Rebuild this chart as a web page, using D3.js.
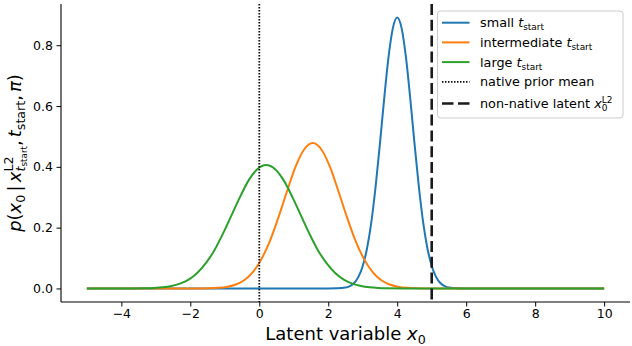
<!DOCTYPE html>
<html>
<head>
<meta charset="utf-8">
<script src="https://cdn.jsdelivr.net/npm/d3@7"></script>
<style>
  body { margin: 0; background: white; }
  text { font-family: 'DejaVu Sans', sans-serif; fill: #000; }
</style>
</head>
<body>
<script>
// curves (x in latent units, y = density)
const blueX = [-5, 1.5, 2.0, 2.25, 2.5, 2.625, 2.75, 2.875, 3.0, 3.125, 3.25, 3.375, 3.5, 3.625, 3.75, 3.875, 4.0,
  4.125, 4.25, 4.375, 4.5, 4.625, 4.75, 4.875, 5.0, 5.125, 5.25, 5.375, 5.5, 5.75, 6.0, 6.5, 10];
const blueY = [0, 0, 0, 0.0004, 0.003, 0.008, 0.018, 0.038, 0.074, 0.132, 0.219, 0.337, 0.478, 0.628, 0.763, 0.857, 0.891,
  0.857, 0.763, 0.628, 0.478, 0.337, 0.219, 0.132, 0.074, 0.038, 0.018, 0.008, 0.003, 0.0004, 0, 0, 0];

const orangeX = [-5, -2.0, -1.45, -1.2, -0.95, -0.7, -0.45, -0.2, 0.05, 0.3, 0.55, 0.8, 1.05, 1.3, 1.55,
  1.8, 2.05, 2.3, 2.55, 2.8, 3.05, 3.3, 3.55, 3.8, 4.05, 4.3, 4.55, 5.05, 10];
const orangeY = [0, 0, 0.0007, 0.002, 0.005, 0.012, 0.026, 0.052, 0.094, 0.154, 0.232, 0.318, 0.400, 0.457, 0.478,
  0.457, 0.400, 0.318, 0.232, 0.154, 0.094, 0.052, 0.026, 0.012, 0.005, 0.002, 0.0007, 0, 0];

const greenX = [-5, -4.3, -3.8, -3.3, -3.05, -2.8, -2.55, -2.3, -2.05, -1.8, -1.55, -1.3, -1.05, -0.8, -0.55, -0.3, -0.05, 0.2,
  0.45, 0.7, 0.95, 1.2, 1.45, 1.7, 1.95, 2.2, 2.45, 2.7, 2.95, 3.2, 3.45, 3.7, 4.2, 4.7, 10];
const greenY = [0, 0, 0.0001, 0.0007, 0.0017, 0.0038, 0.008, 0.016, 0.029, 0.051, 0.083, 0.126, 0.181, 0.242, 0.303, 0.357, 0.393, 0.406,
  0.393, 0.357, 0.303, 0.242, 0.181, 0.126, 0.083, 0.051, 0.029, 0.016, 0.008, 0.0038, 0.0017, 0.0007, 0.0001, 0, 0];

const priorMean = 0;
const latentL2 = 5;

const xTicks = [-4, -2, 0, 2, 4, 6, 8, 10];
const yTicks = [0.0, 0.2, 0.4, 0.6, 0.8];

const BLUE = '#1f77b4', ORANGE = '#ff7f0e', GREEN = '#2ca02c';

const W = 632, H = 346;
const mLeft = 61, mRight = 630, mTop = 4, mBottom = 302;

const svg = d3.select('body').append('svg')
    .attr('width', W)
    .attr('height', H);

const x = d3.scaleLinear().domain([-5.75, 10.75]).range([mLeft, mRight]);
const y = d3.scaleLinear().domain([-0.0446, 0.9356]).range([mBottom, mTop]);

// small helper for matplotlib-style mathtext: pieces laid out left to right
function mathText(g, parts, fs) {
    let cx = 0, save = 0, stackEnd = 0;
    parts.forEach(p => {
        if (p.gap) { cx += p.gap * fs; return; }
        if (p.save) save = cx;
        if (p.back) { stackEnd = cx; cx = save; }
        const t = g.append('text')
            .attr('x', cx)
            .attr('y', (p.dy || 0) * fs)
            .attr('font-size', fs * (p.sc || 1))
            .attr('font-style', p.it ? 'italic' : null)
            .text(p.s);
        cx += t.node().getComputedTextLength();
        if (p.join) cx = Math.max(cx, stackEnd);
    });
    return cx;
}
const SUB = 0.22, SUP = -0.42;
const tStart = [{s: 't', it: 1}, {s: 'start', sc: 0.7, dy: SUB}];

// curves
const line = d3.line()
    .x(d => x(d[0]))
    .y(d => y(d[1]))
    .curve(d3.curveMonotoneX);

const series = [
    {xs: blueX, ys: blueY, color: BLUE},
    {xs: orangeX, ys: orangeY, color: ORANGE},
    {xs: greenX, ys: greenY, color: GREEN}
];
series.forEach(s => {
    svg.append('path')
        .datum(d3.zip(s.xs, s.ys))
        .attr('d', line)
        .attr('fill', 'none')
        .attr('stroke', s.color)
        .attr('stroke-width', 2);
});

// vertical reference lines
svg.append('line')
    .attr('x1', x(priorMean)).attr('x2', x(priorMean))
    .attr('y1', mTop).attr('y2', mBottom)
    .attr('stroke', '#111').attr('stroke-width', 1.8)
    .attr('stroke-dasharray', '1.5,1.5');
svg.append('line')
    .attr('x1', x(latentL2)).attr('x2', x(latentL2))
    .attr('y1', mTop).attr('y2', mBottom)
    .attr('stroke', '#1a1a1a').attr('stroke-width', 2.6)
    .attr('stroke-dasharray', '11,4.8');

// axes
const xAxis = svg.append('g')
    .attr('transform', `translate(0,${mBottom})`)
    .call(d3.axisBottom(x).tickValues(xTicks).tickSize(4.5).tickPadding(3)
        .tickFormat(d => d3.format('d')(d).replace('-', '\u2212')));
const yAxis = svg.append('g')
    .attr('transform', `translate(${mLeft},0)`)
    .call(d3.axisLeft(y).tickValues(yTicks).tickSize(4.5).tickPadding(3.5)
        .tickFormat(d3.format('.1f')));
[xAxis, yAxis].forEach(a => {
    a.select('.domain').attr('stroke', '#000').attr('stroke-width', 1.1);
    a.selectAll('.tick line').attr('stroke', '#000').attr('stroke-width', 1);
    a.selectAll('.tick text')
        .attr('font-family', "'DejaVu Sans', sans-serif")
        .attr('font-size', 12.5)
        .attr('fill', '#000');
});
// d3 domain path includes outer ticks; redraw as plain spines
xAxis.select('.domain').attr('d', `M${mLeft},0H${mRight}`);
yAxis.select('.domain').attr('d', `M0,${mTop}V${mBottom}`);

// x label
const xl = svg.append('g');
const xlIn = xl.append('g');
const xlW = mathText(xlIn, [
    {s: 'Latent variable\u00a0'},
    {s: 'x', it: 1}, {s: '0', sc: 0.7, dy: SUB}
], 18);
xlIn.attr('transform', `translate(${-xlW / 2},0)`);
xl.attr('transform', `translate(${(mLeft + mRight) / 2},340)`);

// y label
const yl = svg.append('g');
const ylIn = yl.append('g');
const ylW = mathText(ylIn, [
    {s: 'p', it: 1}, {s: '('},
    {s: 'x', it: 1}, {s: '0', sc: 0.7, dy: SUB},
    {gap: 0.18}, {s: '|'}, {gap: 0.18},
    {s: 'x', it: 1},
    {s: 'L2', sc: 0.7, dy: SUP, save: 1},
    {s: 't', it: 1, sc: 0.7, dy: SUB, back: 1},
    {s: 'start', sc: 0.49, dy: SUB + 0.14, join: 1},
    {s: ','}, {gap: 0.17},
    {s: 't', it: 1}, {s: 'start', sc: 0.7, dy: SUB},
    {s: ','}, {gap: 0.17},
    {s: '\u03c0', it: 1}, {s: ')'}
], 18);
ylIn.attr('transform', `translate(${-ylW / 2},0)`);
yl.attr('transform', `translate(21,${(mTop + mBottom) / 2}) rotate(-90)`);

// legend
const legendItems = [
    {label: [{s: 'small\u00a0'}, ...tStart], color: BLUE, dash: null, w: 2},
    {label: [{s: 'intermediate\u00a0'}, ...tStart], color: ORANGE, dash: null, w: 2},
    {label: [{s: 'large\u00a0'}, ...tStart], color: GREEN, dash: null, w: 2},
    {label: [{s: 'native prior mean'}], color: '#111', dash: '1.5,1.5', w: 1.8},
    {label: [{s: 'non-native latent\u00a0'}, {s: 'x', it: 1},
             {s: 'L2', sc: 0.7, dy: SUP, save: 1}, {s: '0', sc: 0.7, dy: SUB, back: 1, join: 1}],
     color: '#1a1a1a', dash: '11.5,4.5', w: 2.6}
];
const lg = svg.append('g');
lg.append('rect')
    .attr('x', 437.5).attr('y', 11).attr('width', 185.5).attr('height', 107)
    .attr('rx', 3)
    .attr('fill', 'white').attr('fill-opacity', 0.8)
    .attr('stroke', '#cccccc').attr('stroke-width', 1);
legendItems.forEach((it, i) => {
    const cy = 22.7 + i * 19.7 + (i === 4 ? 2 : 0);
    lg.append('line')
        .attr('x1', 442).attr('x2', 469.5)
        .attr('y1', cy).attr('y2', cy)
        .attr('stroke', it.color).attr('stroke-width', it.w)
        .attr('stroke-dasharray', it.dash);
    const tg = lg.append('g').attr('transform', `translate(480,${cy + 4.6})`);
    mathText(tg, it.label, 12.8);
});
</script>
</body>
</html>
